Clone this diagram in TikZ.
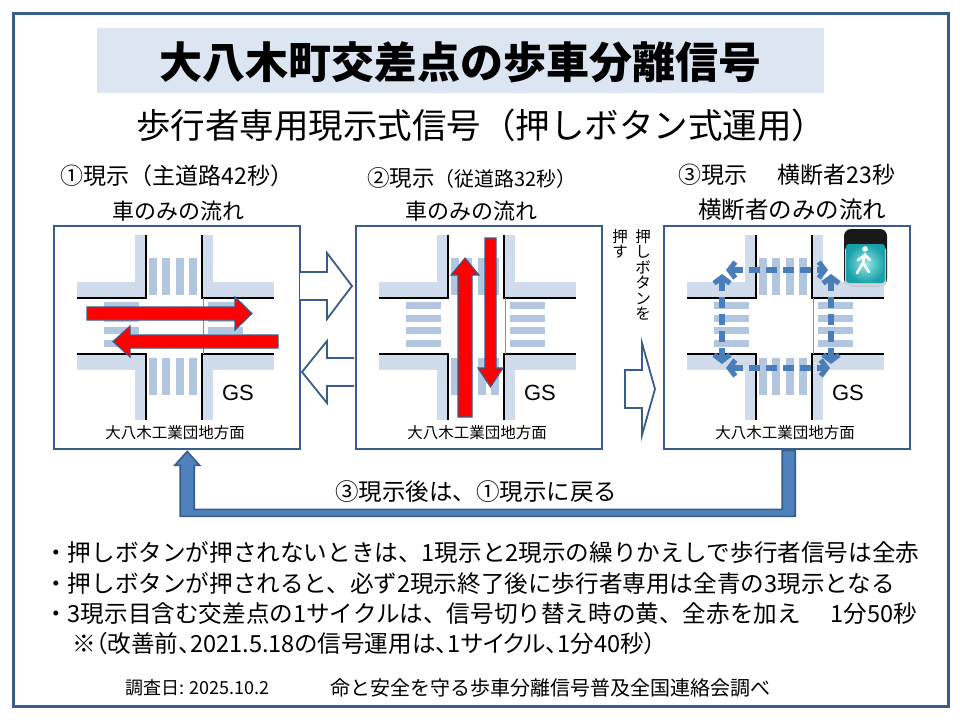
\documentclass[tikz,border=0pt]{standalone}
\usepackage{fontspec}
\setmainfont{Noto Sans CJK JP}
\newfontfamily\gsfont{Liberation Sans}
\newfontfamily\pfont{Noto Sans CJK JP}[RawFeature=+palt]
\usetikzlibrary{arrows.meta,calc}
\definecolor{frameblue}{RGB}{56,93,138}
\definecolor{bandblue}{RGB}{220,230,242}
\definecolor{walkblue}{RGB}{208,220,236}
\definecolor{zebrablue}{RGB}{178,198,224}
\definecolor{pedblue}{RGB}{74,126,187}
\definecolor{loopfill}{RGB}{79,129,189}
\definecolor{sigedge}{RGB}{25,160,168}
\definecolor{sigcenter}{RGB}{150,232,232}
\newcommand\jfs[1]{\fontsize{#1}{#1}\selectfont}
\tikzset{
  panelbox/.style={draw=frameblue, line width=2.4pt, fill=white, minimum width=246pt, minimum height=223pt, inner sep=0pt, anchor=north west},
  curb/.style={line width=2.3pt, black},
  sidewalk/.style={fill=walkblue},
  zebra/.style={fill=zebrablue},
  redarrow/.style={fill=red, draw=frameblue, line width=1.1pt, line join=miter},
  pedarrow/.style={draw=pedblue, line width=5.2pt, dash pattern=on 11pt off 6pt, arrows={Straight Barb[length=6pt,width=16pt]-Straight Barb[length=6pt,width=16pt]}},
  blockarrow/.style={draw=frameblue, line width=1.8pt, fill=white, line join=miter},
  looparrow/.style={draw=frameblue, line width=1.6pt, fill=loopfill, line join=miter},
  jtext/.style={inner sep=0pt},
}
\newcommand\crossing[3]{%
  \node[panelbox] (#1) at (#2,#3) {};
  \begin{scope}[shift={(#2,#3)}]
    \fill[sidewalk] (82,10) rectangle (93,73);
    \fill[sidewalk] (24,57) rectangle (93,73);
    \fill[sidewalk] (149,10) rectangle (160,73);
    \fill[sidewalk] (149,57) rectangle (221,73);
    \fill[sidewalk] (82,129) rectangle (93,195);
    \fill[sidewalk] (24,129) rectangle (93,145);
    \fill[sidewalk] (149,129) rectangle (160,195);
    \fill[sidewalk] (149,129) rectangle (221,145);
    \foreach \i in {0,...,3}{
      \fill[zebra] ({96+13.3*\i},33) rectangle ({104+13.3*\i},70);
      \fill[zebra] ({96+13.3*\i},133) rectangle ({104+13.3*\i},170);
      \fill[zebra] (51,{77+12.5*\i}) rectangle (86,{84+12.5*\i});
      \fill[zebra] (155,{77+12.5*\i}) rectangle (190,{84+12.5*\i});
    }
    \draw[curb] (93,10) -- (93,73) -- (24,73);
    \draw[curb] (149,10) -- (149,73) -- (221,73);
    \draw[curb] (24,129) -- (93,129) -- (93,195);
    \draw[curb] (221,129) -- (149,129) -- (149,195);
    \draw[black!45, line width=0.5pt] (150.5,73) -- (150.5,129);
    \node[jtext, font=\gsfont\jfs{22}] (#1gs) at (185,168) {GS};
    \node[jtext, font=\jfs{15.5}] (#1area) at (122,208) {大八木工業団地方面};
  \end{scope}}
\begin{document}
\begin{tikzpicture}[x=1pt,y=-1pt]
\useasboundingbox (0,0) rectangle (960,720);
\fill[white] (0,0) rectangle (960,720);
\draw[frameblue, line width=3pt] (13,13) rectangle (948,706);
% title
\fill[bandblue] (97,28) rectangle (824,93);
\node[jtext, font=\bfseries\jfs{43}] (title) at (460,62) {大八木町交差点の歩車分離信号};
\node[jtext, font=\jfs{34.5}] (subtitle) at (481,125) {歩行者専用現示式信号（押しボタン式運用）};
% phase headings
\node[jtext, font=\jfs{23}] (h1a) at (177,176) {①現示（主道路42秒）};
\node[jtext, font=\jfs{22}] (h1b) at (178,211) {車のみの流れ};
\node[jtext, font=\jfs{22.5}] (h2a) at (472,178) {②現示{\jfs{20}（従道路32秒）}};
\node[jtext, font=\jfs{22}] (h2b) at (471,211) {車のみの流れ};
\node[jtext, font=\jfs{23}] (h3a) at (787,175) {③現示\hspace{30pt}横断者23秒};
\node[jtext, font=\jfs{23.5}] (h3b) at (792,210) {横断者のみの流れ};
% panels
\crossing{p1}{53}{225}
\crossing{p2}{355}{225}
\crossing{p3}{663}{225}
% panel 1 red arrows
\begin{scope}[shift={(53,225)}]
  \draw[redarrow] (34,82) -- (182,82) -- (182,72) -- (199,88.5) -- (182,105) -- (182,95) -- (34,95) -- cycle;
  \draw[redarrow] (225,110) -- (77,110) -- (77,101) -- (60,116.5) -- (77,132) -- (77,123) -- (225,123) -- cycle;
\end{scope}
% panel 2 red arrows
\begin{scope}[shift={(355,225)}]
  \draw[redarrow] (103,192) -- (103,50) -- (96,50) -- (110,33) -- (124,50) -- (117,50) -- (117,192) -- cycle;
  \draw[redarrow] (130,13) -- (130,143) -- (123,143) -- (135.5,162) -- (148,143) -- (141,143) -- (141,13) -- cycle;
\end{scope}
% panel 3 pedestrian arrows and signal
\begin{scope}[shift={(663,225)}]
  \draw[pedarrow] (63,45) -- (165,45);
  \draw[pedarrow] (63,143) -- (167,143);
  \draw[pedarrow] (59,49) -- (59,139);
  \draw[pedarrow] (168,49) -- (168,139);
  \fill[black!90, rounded corners=7pt] (181,4) rectangle (224,61);
  \fill[gray!35, rounded corners=3pt] (182,22) rectangle (223,61);
  \shade[inner color=sigcenter, outer color=sigedge, rounded corners=3pt] (183,19) rectangle (222,58);
  \begin{scope}[white, line width=2.6pt, line cap=round, line join=round]
    \fill (202,24) circle (2.8pt);
    \draw (202,29) -- (200,38);
    \draw (195,35) -- (202,30) -- (207,35);
    \draw (194,48) -- (200,38) -- (206,47);
  \end{scope}
\end{scope}
% block arrows between panels
\draw[blockarrow] (300,272) -- (327,272) -- (327,253) -- (352,286) -- (327,319) -- (327,300) -- (300,300);
\draw[blockarrow] (354,358) -- (327,358) -- (327,341) -- (302,372) -- (327,403) -- (327,386) -- (354,386);
\draw[blockarrow] (625,370) -- (642,370) -- (642,343) -- (655,389) -- (642,435) -- (642,408) -- (625,408) -- cycle;
% push button text
\node[jtext, font=\jfs{15.5}, align=center, anchor=north] (push1) at (643,229) {押\\し\\ボ\\タ\\ン\\を};
\node[jtext, font=\jfs{15.5}, align=center, anchor=north] (push2) at (620,229) {押\\す};
% loop connector from panel 3 back to panel 1
\coordinate (L1) at ($(p1.south)+(10,0)$);
\coordinate (L3) at ($(p3.south)+(1.5,0)$);
\draw[looparrow] ($(L3)+(6.5,0)$) -- ($(L3)+(6.5,66)$) -- ($(L1)+(-7,66)$) -- ($(L1)+(-7,15)$) -- ($(L1)+(-12.5,15)$) -- ($(L1)+(0,1)$) -- ($(L1)+(12.5,15)$) -- ($(L1)+(7,15)$) -- ($(L1)+(7,59)$) -- ($(L3)+(-6.5,59)$) -- ($(L3)+(-6.5,0)$) -- cycle;
\node[jtext, font=\jfs{23.5}] (back) at (476,492) {③現示後は、①現示に戻る};
% notes
\node[jtext, font=\jfs{23.6}, anchor=west] (n1) at (44,553) {・押しボタンが押されないときは、1現示と2現示の繰りかえしで歩行者信号は全赤};
\node[jtext, font=\jfs{23.6}, anchor=west] (n2) at (44,584) {・押しボタンが押されると、必ず2現示終了後に歩行者専用は全青の3現示となる};
\node[jtext, font=\jfs{23.6}, anchor=west] (n3) at (44,614) {・3現示目含む交差点の1サイクルは、信号切り替え時の黄、全赤を加え\hspace{30pt}1分50秒};
\node[jtext, font=\pfont\jfs{23.6}, anchor=west] (n4) at (72,644) {※（改善前、2021.5.18の信号運用は、1サイクル、1分40秒）};
\node[jtext, font=\jfs{18}, anchor=west] (date) at (125,688) {調査日: 2025.10.2};
\node[jtext, font=\jfs{20}, anchor=west] (org) at (330,688) {命と安全を守る歩車分離信号普及全国連絡会調べ};
\end{tikzpicture}
\end{document}
